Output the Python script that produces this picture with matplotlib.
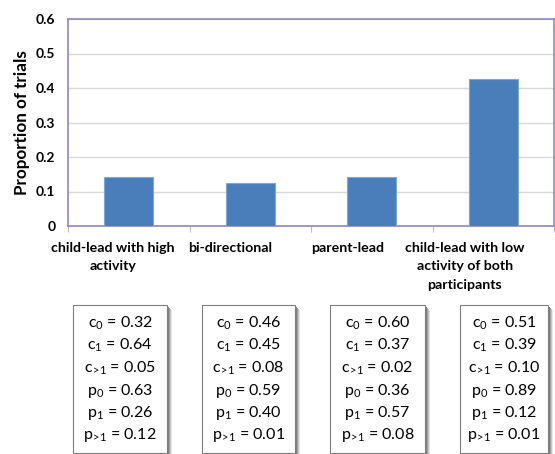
import matplotlib
matplotlib.use("Agg")
import matplotlib.pyplot as plt
from matplotlib.patches import Rectangle
import numpy as np

plt.rcParams['font.family'] = ['Lato', 'DejaVu Sans']
plt.rcParams['mathtext.default'] = 'regular'

# data
categories = ["child-lead with high\nactivity", "bi-directional", "parent-lead",
              "child-lead with low\nactivity of both\nparticipants"]
proportions = [0.142, 0.124, 0.142, 0.426]
c0 = ["0.32", "0.46", "0.60", "0.51"]
c1 = ["0.64", "0.45", "0.37", "0.39"]
cgt1 = ["0.05", "0.08", "0.02", "0.10"]
p0 = ["0.63", "0.59", "0.36", "0.89"]
p1 = ["0.26", "0.40", "0.57", "0.12"]
pgt1 = ["0.12", "0.01", "0.08", "0.01"]

W, H = 555, 454
fig = plt.figure(figsize=(W / 100, H / 100), dpi=100)
ax = fig.add_axes([68 / W, 1 - 226 / H, (554 - 68) / W, (226 - 19) / H])

x = np.arange(len(categories))
ax.bar(x, proportions, width=0.4, color='#4a7ebb', edgecolor='#7fa6d8', linewidth=0.8, zorder=3)
ax.set_xlim(-0.5, len(categories) - 0.5)
ax.set_ylim(0, 0.6)
ax.set_yticks(np.arange(0, 0.61, 0.1))
ax.set_yticklabels(['0', '0.1', '0.2', '0.3', '0.4', '0.5', '0.6'], fontweight='bold', fontsize=10)
ax.yaxis.grid(True, color='#d9d9d9', linewidth=1, zorder=0)
ax.tick_params(axis='y', length=0, pad=9)
ax.set_xticks(np.arange(-0.5, len(categories) - 0.4, 1.0))
ax.set_xticklabels([])
ax.tick_params(axis='x', length=4, color='#bfbfbf', direction='out')
# labels sit a little left of the bars, as in the original
for i, c in enumerate(categories):
    ax.text(i - 0.13 - 0.035 * i, -0.045, c, ha='center', va='top', fontsize=10.2,
            fontweight='bold', linespacing=1.65, transform=ax.transData)

for side in ['left', 'top', 'right', 'bottom']:
    ax.spines[side].set_color('#8f88c4')
    ax.spines[side].set_linewidth(1.2)
ax.set_ylabel('Proportion of trials', fontsize=12.3, fontweight='bold', labelpad=4)

# text boxes under the chart
boxes = [(73, 167), (202, 295), (330, 425), (460, 548)]
top, bottom = 305, 453
for k, (x0, x1) in enumerate(boxes):
    for off, col in [(5, '#e4e4e4'), (4, '#c4c4c4'), (3, '#a0a0a0'), (2, '#808080')]:
        fig.patches.append(Rectangle((x0 / W + off / W, 1 - bottom / H - off / H),
                                     (x1 - x0) / W, (bottom - top) / H,
                                     transform=fig.transFigure, facecolor=col,
                                     edgecolor='none', zorder=1))
    fig.patches.append(Rectangle((x0 / W, 1 - bottom / H), (x1 - x0) / W, (bottom - top) / H,
                                 transform=fig.transFigure, facecolor='white',
                                 edgecolor='#7f7f7f', linewidth=0.8, zorder=2))
    lines = ["c$_0$ = " + c0[k], "c$_1$ = " + c1[k], r"c$_{\!>\!1}$ = " + cgt1[k],
             "p$_0$ = " + p0[k], "p$_1$ = " + p1[k], r"p$_{\!>\!1}$ = " + pgt1[k]]
    xc = (x0 + x1) / 2 / W
    for j, s in enumerate(lines):
        fig.text(xc, 1 - (323 + j * 22.5) / H, s, ha='center', va='center',
                 fontsize=11.5, zorder=3)

fig.savefig('out.png', dpi=100)
